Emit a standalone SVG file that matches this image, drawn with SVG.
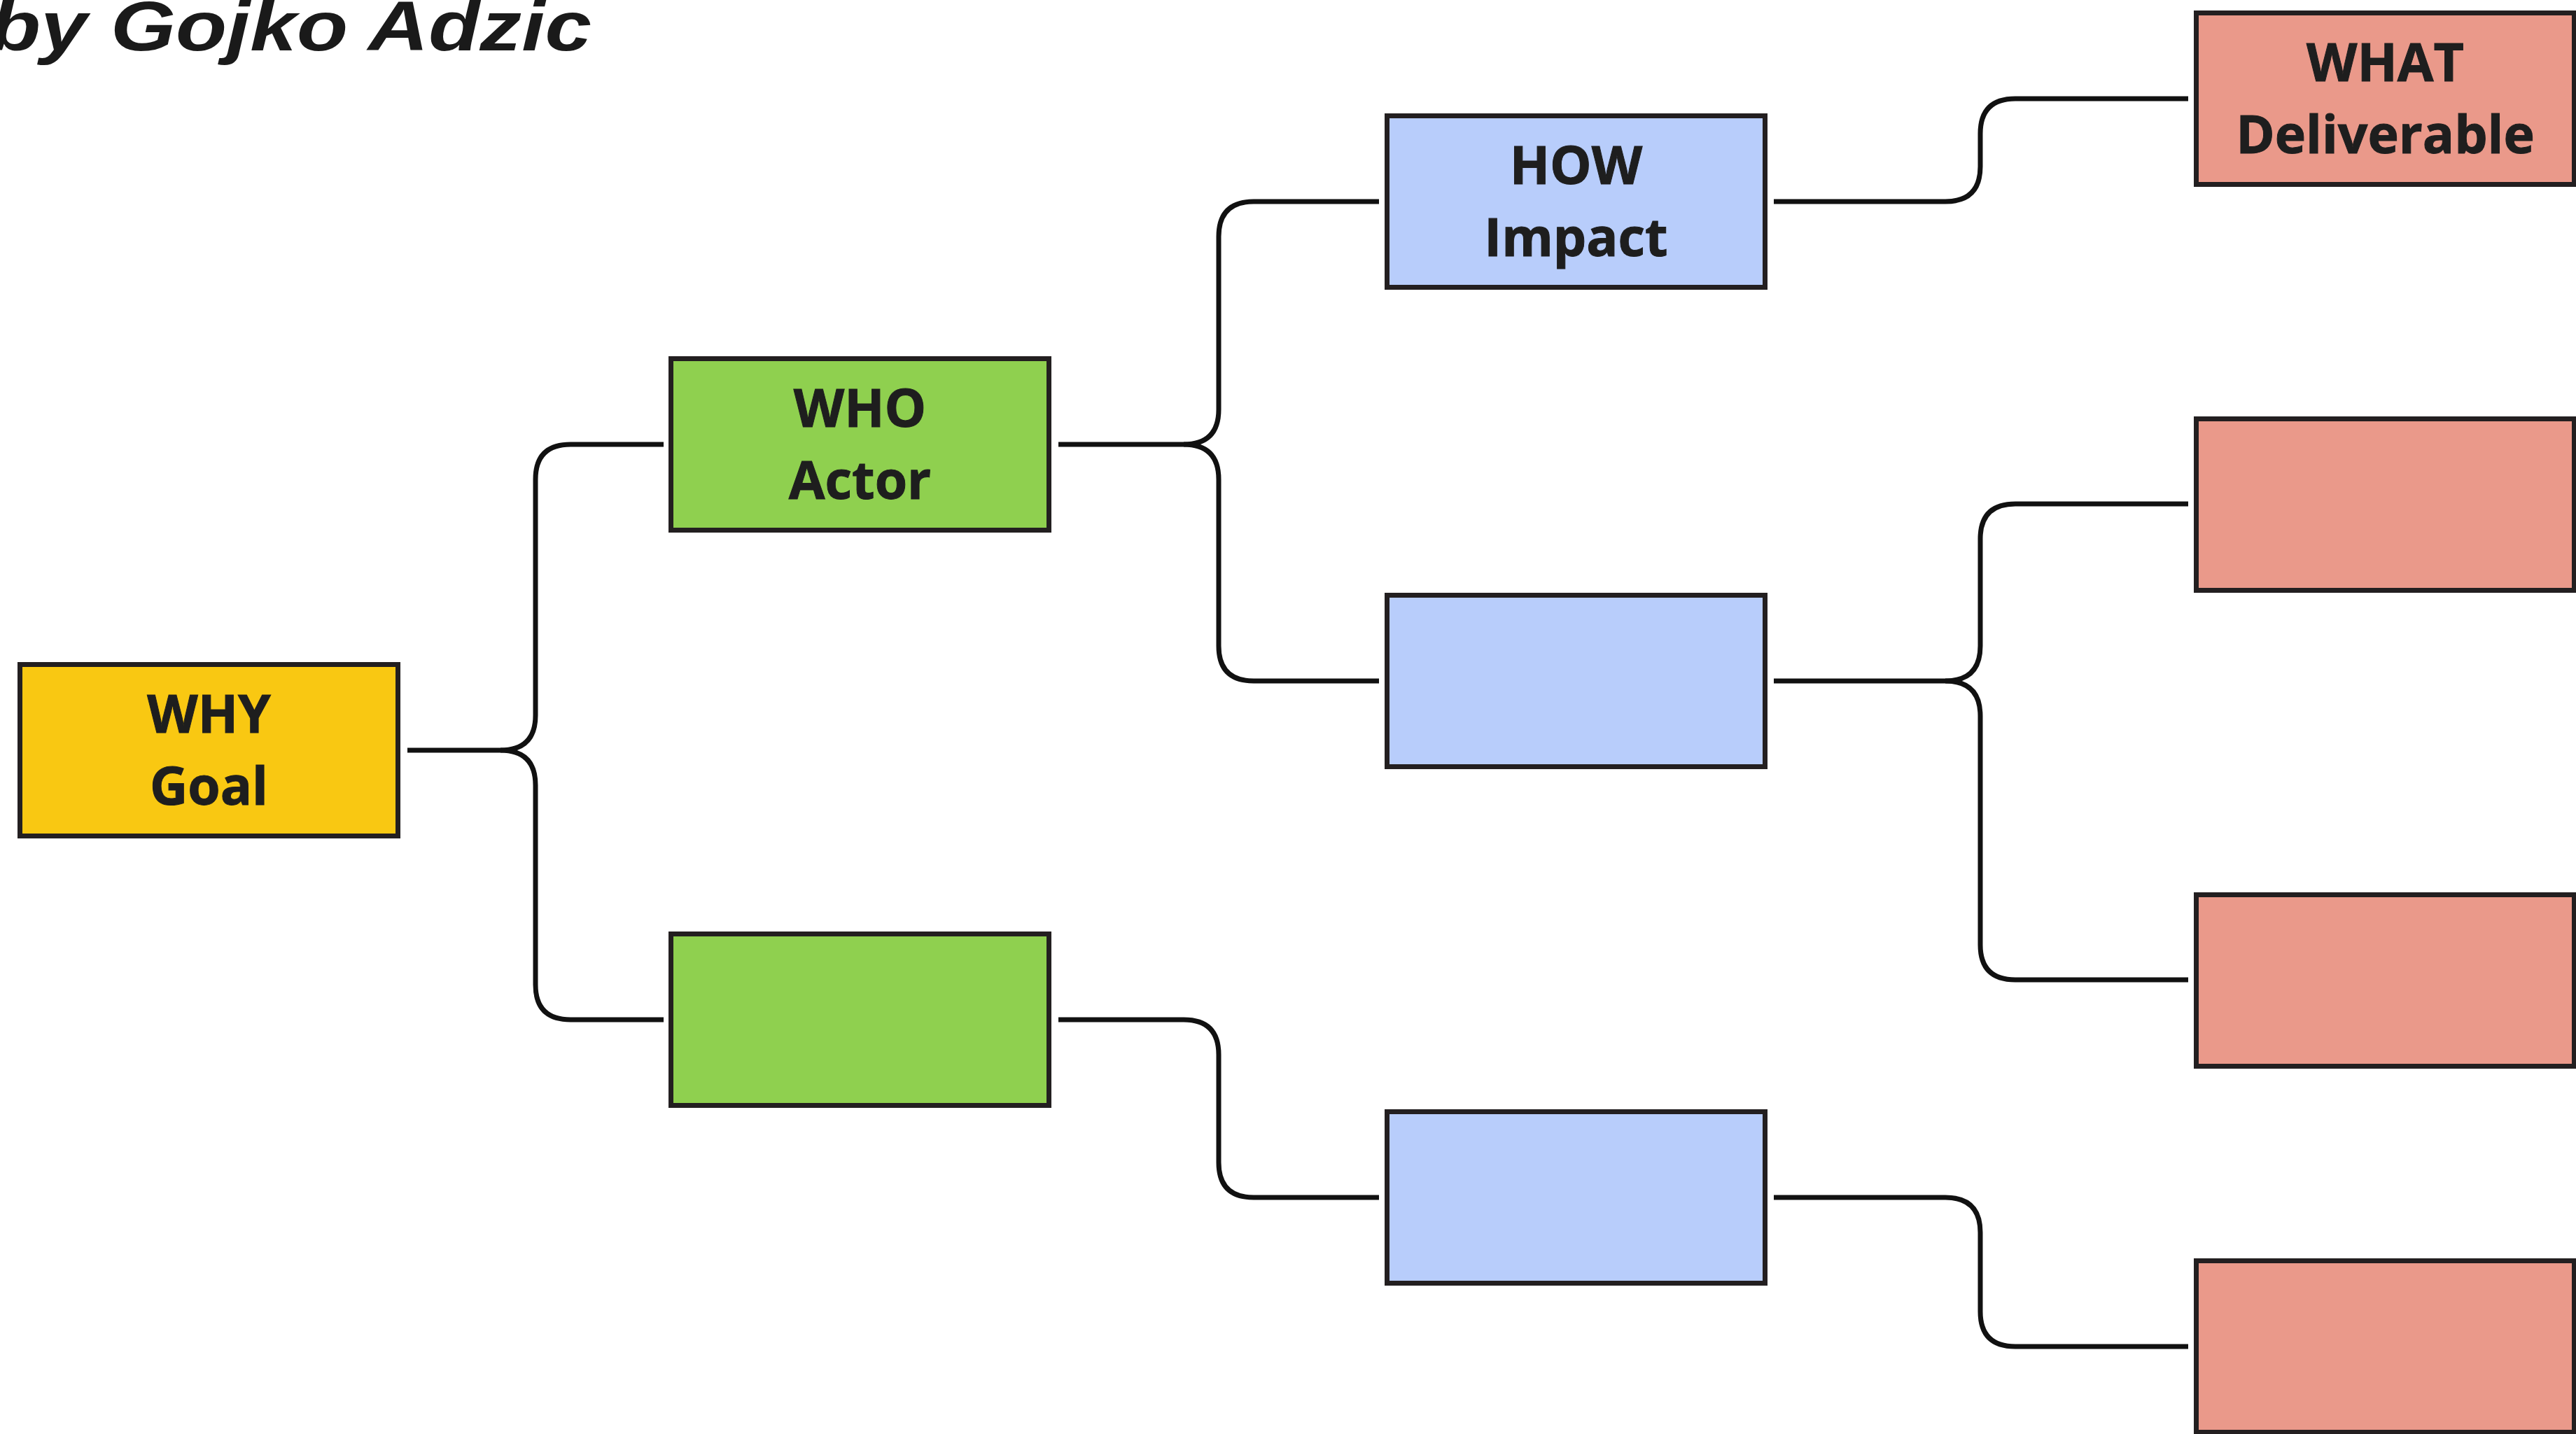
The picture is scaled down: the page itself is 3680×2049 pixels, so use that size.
<svg xmlns="http://www.w3.org/2000/svg" width="3680" height="2049" viewBox="0 0 3680 2049">
  <style>
    .box { stroke: #231f20; stroke-width: 7; }
    .goal { fill: #f9c812; }
    .actor { fill: #8fd04f; }
    .impact { fill: #b8cdfb; }
    .deliv { fill: #ea998a; }
    .lbl { font-family: "Open Sans", "Noto Sans", "Liberation Sans", sans-serif; font-weight: bold; font-size: 75px; fill: #1e1e1e; text-anchor: middle; stroke: #1e1e1e; stroke-width: 1; }
    .wire { fill: none; stroke: #111111; stroke-width: 7; stroke-linejoin: round; }
    .byline { font-family: "Liberation Sans", "DejaVu Sans", sans-serif; font-weight: bold; font-style: italic; font-size: 100px; fill: #1a1a1a; }
  </style>

  <rect width="3680" height="2049" fill="#ffffff"/>

  <text class="byline" x="-15" y="72" textLength="860" lengthAdjust="spacingAndGlyphs">by Gojko Adzic</text>

  <!-- tree connectors -->
  <g id="connectors">
    <path class="wire" d="M 582 1072 H 715 Q 765 1072 765 1022 V 685 Q 765 635 815 635 H 948"/>
    <path class="wire" d="M 715 1072 Q 765 1072 765 1122 V 1407 Q 765 1457 815 1457 H 948"/>
    <path class="wire" d="M 1512 635 H 1691 Q 1741 635 1741 585 V 338 Q 1741 288 1791 288 H 1970"/>
    <path class="wire" d="M 1691 635 Q 1741 635 1741 685 V 923 Q 1741 973 1791 973 H 1970"/>
    <path class="wire" d="M 1512 1457 H 1691 Q 1741 1457 1741 1507 V 1661 Q 1741 1711 1791 1711 H 1970"/>
    <path class="wire" d="M 2534 288 H 2779 Q 2829 288 2829 238 V 191 Q 2829 141 2879 141 H 3126"/>
    <path class="wire" d="M 2534 973 H 2779 Q 2829 973 2829 923 V 770 Q 2829 720 2879 720 H 3126"/>
    <path class="wire" d="M 2779 973 Q 2829 973 2829 1023 V 1350 Q 2829 1400 2879 1400 H 3126"/>
    <path class="wire" d="M 2534 1711 H 2779 Q 2829 1711 2829 1761 V 1874 Q 2829 1924 2879 1924 H 3126"/>
  </g>

  <!-- goal -->
  <g id="why-goal">
    <rect class="box goal" x="28.5" y="949.5" width="540" height="245"/>
    <text class="lbl" x="298.5" y="1047">WHY</text>
    <text class="lbl" x="298.5" y="1150">Goal</text>
  </g>

  <!-- actors -->
  <g id="who-actor">
    <rect class="box actor" x="958.5" y="512.5" width="540" height="245"/>
    <text class="lbl" x="1228.5" y="610">WHO</text>
    <text class="lbl" x="1228.5" y="713">Actor</text>
  </g>
  <g id="actor-2">
    <rect class="box actor" x="958.5" y="1334.5" width="540" height="245"/>
  </g>

  <!-- impacts -->
  <g id="how-impact">
    <rect class="box impact" x="1981.5" y="165.5" width="540" height="245"/>
    <text class="lbl" x="2251.5" y="263">HOW</text>
    <text class="lbl" x="2251.5" y="366">Impact</text>
  </g>
  <g id="impact-2">
    <rect class="box impact" x="1981.5" y="850.5" width="540" height="245"/>
  </g>
  <g id="impact-3">
    <rect class="box impact" x="1981.5" y="1588.5" width="540" height="245"/>
  </g>

  <!-- deliverables -->
  <g id="what-deliverable">
    <rect class="box deliv" x="3137.5" y="18.5" width="540" height="245"/>
    <text class="lbl" x="3407.5" y="116">WHAT</text>
    <text class="lbl" x="3407.5" y="219">Deliverable</text>
  </g>
  <g id="deliverable-2">
    <rect class="box deliv" x="3137.5" y="598.5" width="540" height="245"/>
  </g>
  <g id="deliverable-3">
    <rect class="box deliv" x="3137.5" y="1278.5" width="540" height="245"/>
  </g>
  <g id="deliverable-4">
    <rect class="box deliv" x="3137.5" y="1801.5" width="540" height="245"/>
  </g>
</svg>
